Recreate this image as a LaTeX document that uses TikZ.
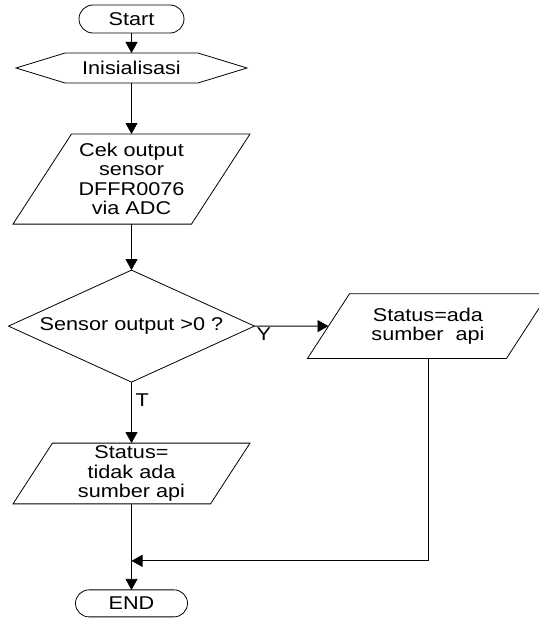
\documentclass[tikz,border=0pt]{standalone}
\usepackage{fontspec}
\setmainfont{Liberation Sans}[FakeStretch=1.17]
\usepackage{tikz}
\usetikzlibrary{shapes, arrows.meta, positioning}

\begin{document}
\begin{tikzpicture}[
    x=1pt, y=1pt,
    line width=0.8pt,
    font=\fontsize{18.5}{19.5}\selectfont,
    every node/.style={outer sep=0pt},
    terminal/.style={rounded rectangle, draw, inner sep=0pt, align=center},
    prep/.style={signal, signal to=east and west, signal pointer angle=34, draw, minimum width=231pt, minimum height=30pt, inner sep=0pt, align=center},
    io/.style={trapezium, trapezium left angle=57, trapezium right angle=123, trapezium stretches body, draw, inner xsep=0pt, align=center},
    decision/.style={diamond, aspect=2.2, draw, minimum width=246pt, minimum height=112pt, inner sep=0pt, align=center},
    arrow/.style={-{Triangle[length=11pt, width=12pt]}}
]
    \useasboundingbox (0,0) rectangle (538,-618);

    % Main column
    \node[terminal, minimum width=105pt, minimum height=28pt] (start) at (131.5,-19) {Start};
    \node[prep, below=20pt of start] (init) {Inisialisasi};
    \node[io, minimum width=237pt, inner ysep=9pt, below=51pt of init] (cek) {Cek output\\sensor\\DFFR0076\\via ADC};
    \node[decision, below=46pt of cek] (check) {Sensor output >0 ?};
    \node[io, minimum width=237pt, inner ysep=2.5pt, below=61pt of check] (tidak) {Status=\\tidak ada\\sumber api};
    \node[terminal, minimum width=112pt, minimum height=27pt, below=86pt of tidak] (end) {END};
    \coordinate[below=57pt of tidak.south] (merge);

    % Right branch
    \node[io, minimum width=241pt, inner ysep=14pt, right=74pt of check] (ada) {Status=ada\\sumber\ \ api};

    \draw[arrow] (start) -- (init);
    \draw[arrow] (init) -- (cek);
    \draw[arrow] (cek) -- (check);
    \draw[arrow] (check) -- node[at start, below right, inner sep=2pt] {Y} (ada);
    \draw[arrow] (check) -- node[pos=0.3, right, inner sep=4pt] {T} (tidak);
    \draw[arrow] (tidak) -- (end);
    \draw[arrow] (ada.center |- ada.south) |- (merge);
\end{tikzpicture}
\end{document}
